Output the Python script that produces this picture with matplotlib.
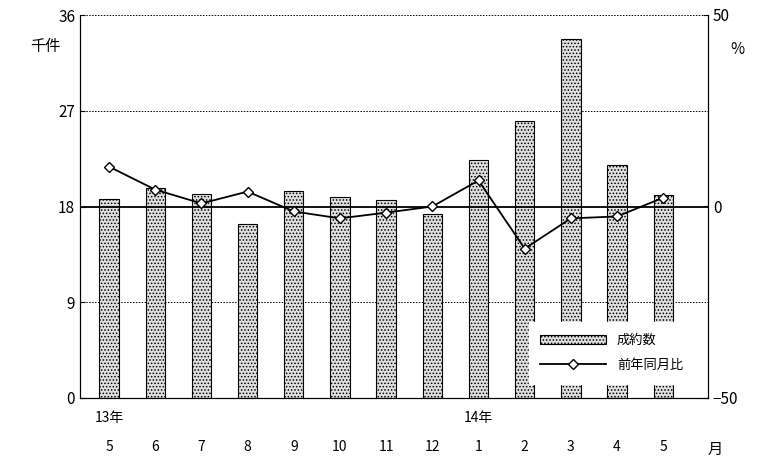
import matplotlib
matplotlib.use("Agg")
import matplotlib.pyplot as plt
plt.rcParams['font.family'] = ['Noto Sans CJK JP', 'DejaVu Sans']
plt.rcParams['hatch.color'] = '#777777'
plt.rcParams['hatch.linewidth'] = 0.7

months = ['5','6','7','8','9','10','11','12','1','2','3','4','5']
contracts = [18.7,19.7,19.2,16.4,19.5,18.9,18.6,17.3,22.4,26.0,33.7,21.9,19.1]
yoy = [10.4,4.4,0.8,3.9,-1.3,-3.1,-1.6,0.0,6.8,-11.0,-3.1,-2.6,2.3]

fig = plt.figure(figsize=(7.59,4.59), dpi=100)
ax = fig.add_axes([80/759, 1-398/459, 628/759, 383/459])
x = list(range(len(months)))
bars = ax.bar(x, contracts, width=0.42, color='#e0e0e0', edgecolor='black', linewidth=0.8, hatch='.....', label='成約数')
ax.set_xlim(-0.63, 12.97)
ax.set_ylim(0, 36)
ax.set_yticks([0,9,18,27,36])
for yv in [9,27,36]:
    ax.axhline(yv, color='black', lw=0.7, ls=(0,(1.5,1.5)), zorder=0)
ax.axhline(18, color='black', lw=1.3, zorder=1)
ax.set_xticks(x)
ax.set_xticklabels(months)
ax.tick_params(axis='x', length=0, pad=30, labelsize=10)
ax.tick_params(axis='y', direction='in', labelsize=11)
ax.spines['top'].set_visible(False)
ax2 = ax.twinx()
ln, = ax2.plot(x, yoy, color='black', lw=1.3, marker='D', markersize=5, markerfacecolor='white', markeredgecolor='black', label='前年同月比')
ax2.set_ylim(-50, 50)
ax2.set_yticks([-50,0,50])
ax2.set_yticklabels(['−50','0','50'])
ax2.tick_params(axis='y', direction='in', labelsize=11)
ax2.spines['top'].set_visible(False)
fig.text(30/759, 1-46/459, '千件', fontsize=11, ha='left', va='center')
fig.text(737/759, 1-50/459, '%', fontsize=11, ha='center', va='center')
fig.text(715/759, 1-449/459, '月', fontsize=11, ha='center', va='center')
ax.text(0, -0.035, '13年', transform=ax.get_xaxis_transform(), ha='center', va='top', fontsize=10)
ax.text(8, -0.035, '14年', transform=ax.get_xaxis_transform(), ha='center', va='top', fontsize=10)
leg = ax2.legend([bars, ln], ['成約数','前年同月比'], loc='lower right', bbox_to_anchor=(0.99, 0.02), frameon=True, fancybox=False, edgecolor='white', framealpha=1, fontsize=9.5, handlelength=5, borderpad=0.9, labelspacing=0.9)
fig.savefig('out.png', dpi=100)
